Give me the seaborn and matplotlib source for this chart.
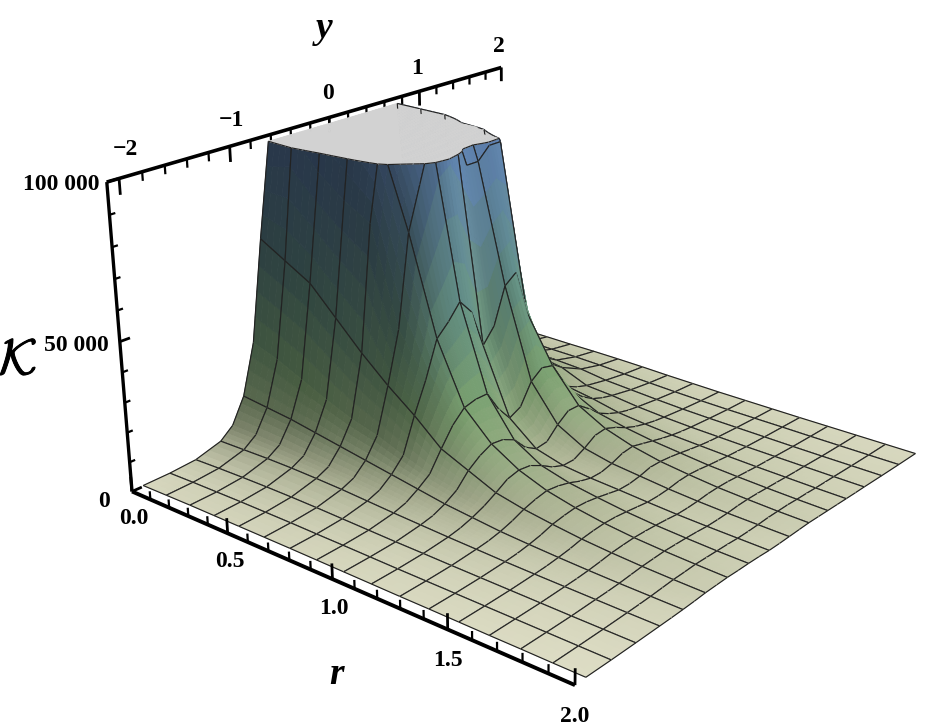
import numpy as np
import seaborn as sns
import matplotlib
matplotlib.use("Agg")
import matplotlib.pyplot as plt
import matplotlib.patheffects as pe
from mpl_toolkits.mplot3d import proj3d
from mpl_toolkits.mplot3d.art3d import Poly3DCollection, Line3DCollection

r_values = [0, .125, .25, .375, .5, .625, .75, .875, 1, 1.125, 1.25, 1.375, 1.5, 1.625, 1.75, 1.875, 2]
y_values = [-2, -1.75, -1.5, -1.25, -1.125, -1, -.875, -.75, -.625, -.5, -.375, -.25, -.125, 0, .125, .25, .375, .5,
            .625, .75, .875, 1, 1.125, 1.25, 1.5, 1.75, 2]

# kappa in thousands, one list per r value
k_r0000 = [.3, .5, 1.2, 3.8, 7.5, 16, 33, 67, 98, 170, 230, 270, 285, 290, 280, 270, 260, 250, 190, 95, 45, 28, 18, 12, 6, 3.5, 2]
k_r0125 = [.4, .7, 1.5, 4, 7.3, 15, 30, 62, 102, 150, 195, 240, 260, 265, 250, 240, 230, 220, 180, 92, 45, 28, 18, 12, 6, 3.5, 2]
k_r0250 = [.5, .8, 1.7, 4.2, 7, 14, 26, 57, 92, 130, 160, 200, 225, 230, 220, 205, 195, 190, 165, 90, 44, 27, 17, 12, 6, 3.5, 2]
k_r0375 = [.5, .9, 1.8, 4.2, 6.5, 12.5, 22, 48, 85, 120, 140, 155, 175, 180, 160, 140, 150, 170, 105, 58, 36, 24, 16, 11, 5.7, 3.3, 1.9]
k_r0500 = [.5, .9, 1.8, 4, 6, 11, 18.5, 39, 80, 105, 118, 130, 145, 145, 128, 120, 132, 120, 95, 55, 28, 20, 14, 10.5, 5.4, 3.2, 1.9]
k_r0625 = [.5, .9, 1.7, 3.7, 5.5, 9.5, 16, 31, 48, 78, 92, 106, 112, 106, 93, 93, 97, 97, 62, 38, 22, 16, 12, 9, 4.9, 2.9, 1.8]
k_r0750 = [.5, .8, 1.5, 3.2, 4.8, 8, 12.5, 24, 34, 46, 50, 55, 50, 37, 42, 54, 57, 42, 25, 16, 11, 8.5, 6.5, 5.2, 3.6, 2.4, 1.6]
k_r0875 = [.45, .75, 1.3, 2.7, 4, 6.5, 9.5, 16, 22, 26, 27, 27, 20, 15, 17, 24, 27, 26, 19, 13, 9.5, 7, 5.5, 4.5, 3, 2, 1.3]
k_r1000 = [.4, .65, 1.1, 2.3, 3.2, 5, 7.5, 12, 15, 17, 16.5, 14.5, 10, 7.5, 8, 12, 15, 15, 12, 8.5, 6.5, 5, 4, 3.4, 2.4, 1.6, 1.1]
k_r1125 = [.35, .55, 1, 1.9, 2.7, 4, 5.7, 8, 10.5, 11.5, 11, 9, 6.5, 5, 5, 7, 9.5, 10, 8.5, 6.5, 5, 4, 3.2, 2.7, 1.9, 1.3, .9]
k_r1250 = [.3, .5, .85, 1.6, 2.1, 3, 4.3, 6, 7.2, 8, 7.5, 6.5, 5, 4, 4, 5, 6.5, 7, 6, 5, 4, 3.2, 2.6, 2.2, 1.6, 1.1, .8]
k_r1375 = [.3, .45, .75, 1.3, 1.7, 2.4, 3.3, 4.6, 5.3, 5.8, 5.6, 5, 4.2, 3.4, 3.4, 4, 5, 5, 4.6, 4, 3.3, 2.7, 2.2, 1.9, 1.4, 1, .7]
k_r1500 = [.25, .4, .65, 1.1, 1.4, 1.9, 2.5, 3.4, 3.9, 4.2, 4.1, 3.7, 3.2, 2.7, 2.7, 3, 3.6, 3.8, 3.5, 3, 2.6, 2.2, 1.9, 1.6, 1.2, .9, .6]
k_r1625 = [.2, .35, .55, .95, 1.15, 1.5, 2, 2.6, 2.9, 3.1, 3, 2.8, 2.5, 2.1, 2.1, 2.3, 2.7, 2.8, 2.7, 2.4, 2.1, 1.8, 1.6, 1.4, 1, .75, .55]
k_r1750 = [.2, .3, .45, .8, .95, 1.2, 1.6, 2, 2.2, 2.4, 2.3, 2.2, 2, 1.7, 1.7, 1.8, 2.1, 2.2, 2.1, 1.9, 1.7, 1.5, 1.3, 1.2, .85, .65, .5]
k_r1875 = [.15, .25, .4, .65, .8, 1, 1.3, 1.6, 1.7, 1.9, 1.8, 1.7, 1.6, 1.4, 1.4, 1.5, 1.7, 1.7, 1.7, 1.5, 1.4, 1.2, 1.1, 1, .75, .55, .45]
k_r2000 = [.15, .2, .35, .55, .65, .8, 1, 1.3, 1.4, 1.5, 1.4, 1.4, 1.3, 1.1, 1.1, 1.2, 1.3, 1.4, 1.3, 1.2, 1.1, 1, .9, .85, .65, .5, .4]

r_major = [0, .5, 1, 1.5, 2]
r_major_labels = ["0.0", "0.5", "1.0", "1.5", "2.0"]
y_major = [-2, -1, 0, 1, 2]
y_major_labels = ["\u22122", "\u22121", "0", "1", "2"]
z_major = [0, 50000, 100000]
z_major_labels = ["0", "50 000", "100 000"]

TOP = 100000
CLIP = 98000
R0, Y0 = 0.0007, -2.1044
SUB = 4

sns.set_theme(style="white")
plt.rcParams["font.family"] = ["Liberation Serif", "DejaVu Serif"]
plt.rcParams["mathtext.fontset"] = "cm"

kappa = np.array([k_r0000, k_r0125, k_r0250, k_r0375, k_r0500, k_r0625, k_r0750, k_r0875, k_r1000, k_r1125,
                  k_r1250, k_r1375, k_r1500, k_r1625, k_r1750, k_r1875, k_r2000]) * 1000
r = np.array(r_values)
y = np.array(y_values)

fig = plt.figure(figsize=(9.45, 7.28), dpi=100)
ax = fig.add_axes([34.41 / 945, 30.15 / 728, 1, 1], projection="3d")
ax.set_xlim(-0.1, 2)
ax.set_ylim(-2.2, 2)
ax.set_zlim(0, TOP)
ax.set_xticks([])
ax.set_yticks([])
ax.set_zticks([])
ax.set_proj_type("persp", focal_length=0.489)
ax.view_init(elev=21.49, azim=-50.41)
ax.set_box_aspect((1.0015, 1, 0.5485), zoom=1.2023)
ax.set_axis_off()
ax.computed_zorder = False
ax.apply_aspect()

height_cmap = sns.blend_palette(["#f0eed6", "#b4bb9a", "#80a873", "#6a9a90", "#6488bd"], as_cmap=True)
light = np.array([0.45, 0.45, 0.77])
light = light / np.linalg.norm(light)

# vertex colours: height tint times a simple diffuse light
capped = np.minimum(kappa, 1.3 * TOP)
level = np.minimum(kappa, TOP) / TOP
dz_dr = 0.6 * np.gradient(capped, r, axis=0) * (0.55 / TOP) / 0.5
dz_dy = 0.6 * np.gradient(capped, y, axis=1) * (0.55 / TOP) / 0.25
normals = np.dstack([-dz_dr, -dz_dy, np.ones_like(capped)])
normals = normals / np.linalg.norm(normals, axis=2, keepdims=True)
shade = np.minimum(0.40 + 0.72 * np.clip(normals @ light, 0, 1), 0.97)
shade = np.maximum(shade, 0.76 - 0.42 * np.sqrt(level))
tint = height_cmap(level ** 0.5)[:, :, :3]
vertex_colours = np.clip(tint * shade[:, :, None], 0, 1)


def clip(poly, below=True):
    out = []
    for a, b in zip(poly, poly[1:] + poly[:1]):
        a_in = a[2] <= CLIP if below else a[2] >= CLIP
        b_in = b[2] <= CLIP if below else b[2] >= CLIP
        if a_in:
            out.append(a)
        if a_in != b_in:
            t = (CLIP - a[2]) / (b[2] - a[2])
            out.append((a[0] + t * (b[0] - a[0]), a[1] + t * (b[1] - a[1]), CLIP))
    return out


def cut_edge(a, b):
    if a[2] > CLIP and b[2] > CLIP:
        return None
    if a[2] > CLIP or b[2] > CLIP:
        t = (CLIP - a[2]) / (b[2] - a[2])
        c = (a[0] + t * (b[0] - a[0]), a[1] + t * (b[1] - a[1]), CLIP)
        return [a, c] if b[2] > CLIP else [c, b]
    return [a, b]


def on_mesh(value):
    return abs(value * 4 - round(value * 4)) < 1e-6


def patch(i, j, s, t):
    # point inside cell (i, j): s along r, t along y
    corner = (1 - s) * (1 - t) * kappa[i, j] + s * (1 - t) * kappa[i + 1, j] \
        + s * t * kappa[i + 1, j + 1] + (1 - s) * t * kappa[i, j + 1]
    return (r[i] + s * (r[i + 1] - r[i]), y[j] + t * (y[j + 1] - y[j]), corner)


def patch_colour(i, j, s, t):
    return (1 - s) * (1 - t) * vertex_colours[i, j] + s * (1 - t) * vertex_colours[i + 1, j] \
        + s * t * vertex_colours[i + 1, j + 1] + (1 - s) * t * vertex_colours[i, j + 1]


def label_at(x3, y3, z3, text, **kw):
    # tick labels sit at a 3d spot but are plain 2d text
    a, b, _ = proj3d.proj_transform(x3, y3, z3, ax.get_proj())
    ax.text2D(a, b, text, transform=ax.transData, clip_on=False, **kw)


order = 10
for i in range(len(r) - 1):
    for j in range(len(y) - 2, -1, -1):
        lows, cols, highs, rim = [], [], [], []
        for a in range(SUB):
            for b in range(SUB):
                s0, s1, t0, t1 = a / SUB, (a + 1) / SUB, b / SUB, (b + 1) / SUB
                quad = [patch(i, j, s0, t0), patch(i, j, s1, t0), patch(i, j, s1, t1), patch(i, j, s0, t1)]
                lower = clip(quad, True)
                upper = clip(quad, False)
                if len(lower) > 2:
                    lows.append(lower)
                    cols.append(tuple(patch_colour(i, j, (s0 + s1) / 2, (t0 + t1) / 2)))
                if len(upper) > 2:
                    highs.append([(u, v, CLIP) for u, v, _ in upper])
                if len(lower) > 2 and len(upper) > 2:
                    ends = [v for v in lower if v[2] == CLIP]
                    if len(ends) >= 2:
                        rim.append(ends[:2])
        if lows:
            ax.add_collection3d(Poly3DCollection(lows, facecolors=cols, edgecolors=cols, linewidths=0.6,
                                                 zorder=order, clip_on=False), autolim=False)
            order += 1
        if highs:
            ax.add_collection3d(Poly3DCollection(highs, facecolors="#d2d2d2", edgecolors="#d2d2d2",
                                                 linewidths=0.6, zorder=order, clip_on=False), autolim=False)
            order += 1
        p = [(r[i], y[j], kappa[i, j]), (r[i + 1], y[j], kappa[i + 1, j]),
             (r[i + 1], y[j + 1], kappa[i + 1, j + 1]), (r[i], y[j + 1], kappa[i, j + 1])]
        segs = list(rim)
        if on_mesh(y[j]):
            segs.append(cut_edge(p[0], p[1]))
        if on_mesh(y[j + 1]):
            segs.append(cut_edge(p[3], p[2]))
        segs.append(cut_edge(p[0], p[3]))
        segs.append(cut_edge(p[1], p[2]))
        segs = [s for s in segs if s is not None]
        if segs:
            ax.add_collection3d(Line3DCollection(segs, colors="#222222", linewidths=0.85, zorder=order,
                                                 clip_on=False), autolim=False)
            order += 1

# frame axes, drawn by hand as in the box edges of the original
AXIS = dict(color="black", solid_capstyle="butt", clip_on=False)
ax.plot([R0, R0], [Y0, 2], [TOP, TOP], lw=2.6, zorder=1, **AXIS)
ax.plot([R0, R0], [Y0, Y0], [0, TOP], lw=2.4, zorder=1, **AXIS)
ax.plot([R0, 2], [Y0, Y0], [0, 0], lw=2.8, zorder=5000, **AXIS)

for t in np.arange(0, 2.01, 0.1):
    big = abs(t * 2 - round(t * 2)) < 1e-6
    ax.plot([t, t], [Y0, Y0], [0, 5000 if big else 2800], lw=2 if big else 1.6, zorder=5000, **AXIS)
for t in np.arange(-2, 2.01, 0.2):
    big = abs(t - round(t)) < 1e-6
    ax.plot([R0, R0], [t, t], [TOP, TOP - (5000 if big else 2800)], lw=2 if big else 1.6, zorder=1, **AXIS)
for t in np.arange(0, TOP + 1, 10000):
    big = t % 50000 == 0
    ax.plot([R0, R0], [Y0, Y0 + (0.09 if big else 0.05)], [t, t], lw=2 if big else 1.6, zorder=1, **AXIS)

LABEL = dict(fontsize=17, fontweight="bold", color="black", va="center", zorder=6000)
for t, s in zip(r_major, r_major_labels):
    label_at(t, Y0, -9500, s, ha="center", **LABEL)
for t, dy, s in zip(y_major, [.07, .03, 0, -.02, -.03], y_major_labels):
    label_at(R0, t + dy, TOP + 8000, s, ha="center", **LABEL)
for t, dy, s in zip(z_major, [-.2, -.1, -.06], z_major_labels):
    label_at(R0, Y0 + dy, t, s, ha="right", **LABEL)

AXLABEL = dict(fontweight="bold", style="italic", color="black", ha="center", va="center", zorder=6000)
fig.text(324 / 945, 1 - 28 / 728, "y", fontsize=27, **AXLABEL)
fig.text(337 / 945, 1 - 674 / 728, "r", fontsize=27, **AXLABEL)
kappa_label = fig.text(18 / 945, 1 - 362 / 728, r"$\mathcal{K}$", fontsize=36, color="black", ha="center", va="center")
kappa_label.set_path_effects([pe.withStroke(linewidth=0.7, foreground="black")])

fig.savefig("out.png", dpi=100)
